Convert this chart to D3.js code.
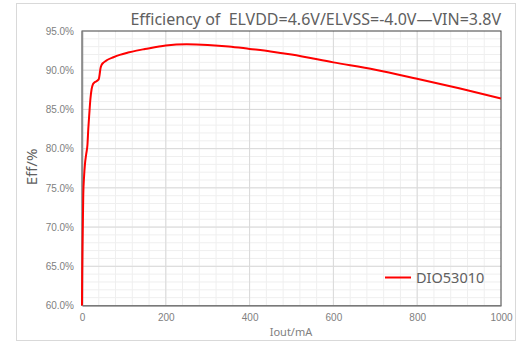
<!DOCTYPE html>
<html>
<head>
<meta charset="utf-8">
<script src="https://cdn.jsdelivr.net/npm/d3@7"></script>
<style>
  body { margin: 0; background: #fff; }
  svg { display: block; font-family: "Noto Sans", "DejaVu Sans", sans-serif; }
  .tick text { fill: #808080; font-size: 10px; }
  .tick line { display: none; }
</style>
</head>
<body>
<svg id="chart" width="523" height="352"></svg>
<script>
// Iout (mA) vs efficiency (%)
var current = [0, 0.5, 1.5, 3, 5, 7, 10, 13, 15, 17.5, 20, 23, 26, 29, 33, 37, 40, 42, 44, 47, 52, 60, 75, 90, 110, 130, 150, 200, 250, 300, 350, 400, 450, 500, 600, 700, 800, 900, 1000];
var efficiency = [60, 64, 68.5, 74, 76.5, 78, 79.3, 80.5, 82.5, 84.5, 86.3, 87.6, 88.2, 88.4, 88.55, 88.7, 88.85, 89.4, 90.2, 90.7, 91.0, 91.3, 91.65, 91.95, 92.25, 92.5, 92.7, 93.15, 93.3, 93.22, 93.03, 92.72, 92.4, 92.0, 91.0, 90.05, 88.9, 87.7, 86.4];
var seriesName = 'DIO53010';
var xTicks = [0, 200, 400, 600, 800, 1000];
var yTicks = [60, 65, 70, 75, 80, 85, 90, 95];

var svg = d3.select('#chart');
var m = { left: 82, right: 501, top: 31, bottom: 305.5 };

var x = d3.scaleLinear().domain([0, 1000]).range([m.left, m.right]);
var y = d3.scaleLinear().domain([60, 95]).range([m.bottom, m.top]);

// outer frame
svg.append('rect')
  .attr('x', 16.5).attr('y', 3.5).attr('width', 499).attr('height', 337)
  .attr('fill', 'none').attr('stroke', '#d9d9d9');

// minor grid
var grid = svg.append('g');
grid.selectAll('line.mx').data(d3.range(40, 1000, 40))
  .join('line').attr('class', 'mx')
  .attr('x1', function(d) { return x(d); }).attr('x2', function(d) { return x(d); })
  .attr('y1', m.top).attr('y2', m.bottom)
  .attr('stroke', '#efefef');
grid.selectAll('line.my').data(d3.range(61, 95, 1))
  .join('line').attr('class', 'my')
  .attr('y1', function(d) { return y(d); }).attr('y2', function(d) { return y(d); })
  .attr('x1', m.left).attr('x2', m.right)
  .attr('stroke', '#efefef');
// major grid
grid.selectAll('line.Mx').data(xTicks.slice(1, -1))
  .join('line').attr('class', 'Mx')
  .attr('x1', function(d) { return x(d); }).attr('x2', function(d) { return x(d); })
  .attr('y1', m.top).attr('y2', m.bottom)
  .attr('stroke', '#d9d9d9');
grid.selectAll('line.My').data(yTicks.slice(1, -1))
  .join('line').attr('class', 'My')
  .attr('y1', function(d) { return y(d); }).attr('y2', function(d) { return y(d); })
  .attr('x1', m.left).attr('x2', m.right)
  .attr('stroke', '#d9d9d9');

// plot box
svg.append('rect')
  .attr('x', m.left).attr('y', m.top)
  .attr('width', m.right - m.left).attr('height', m.bottom - m.top)
  .attr('fill', 'none').attr('stroke', '#404040').attr('stroke-width', 1);

// axes
var xAxis = svg.append('g')
  .attr('transform', 'translate(0,' + m.bottom + ')')
  .call(d3.axisBottom(x).tickValues(xTicks).tickSize(0).tickPadding(8)
    .tickFormat(d3.format('d')));
xAxis.select('.domain').attr('stroke', '#8c8c8c').attr('stroke-width', 1.5);

var yAxis = svg.append('g')
  .attr('transform', 'translate(' + m.left + ',0)')
  .call(d3.axisLeft(y).tickValues(yTicks).tickSize(0).tickPadding(8)
    .tickFormat(function(d) { return d3.format('.1f')(d) + '%'; }));
yAxis.select('.domain').attr('stroke', '#8c8c8c').attr('stroke-width', 1.5);

// series
var line = d3.line()
  .x(function(d, i) { return x(current[i]); })
  .y(function(d) { return y(d); })
  .curve(d3.curveMonotoneX);

svg.append('path')
  .datum(efficiency)
  .attr('d', line)
  .attr('fill', 'none')
  .attr('stroke', '#ff0000')
  .attr('stroke-width', 2);

// titles
svg.append('text')
  .attr('x', 501).attr('y', 25)
  .attr('text-anchor', 'end')
  .attr('fill', '#606060').attr('font-size', 16)
  .style('white-space', 'pre')
  .text('Efficiency of  ELVDD=4.6V/ELVSS=-4.0V\u2014VIN=3.8V');

svg.append('text')
  .attr('transform', 'translate(37,167) rotate(-90)')
  .attr('text-anchor', 'middle')
  .attr('fill', '#606060').attr('font-size', 15)
  .text('Eff/%');

svg.append('text')
  .attr('x', 291).attr('y', 336)
  .attr('text-anchor', 'middle')
  .attr('fill', '#808080').attr('font-size', 11)
  .text('Iout/mA');

// legend
var lg = svg.append('g');
lg.append('line')
  .attr('x1', 385).attr('x2', 411).attr('y1', 277.5).attr('y2', 277.5)
  .attr('stroke', '#ff0000').attr('stroke-width', 2);
lg.append('text')
  .attr('x', 416).attr('y', 283)
  .attr('fill', '#606060').attr('font-size', 14.5)
  .text(seriesName);
</script>
</body>
</html>
